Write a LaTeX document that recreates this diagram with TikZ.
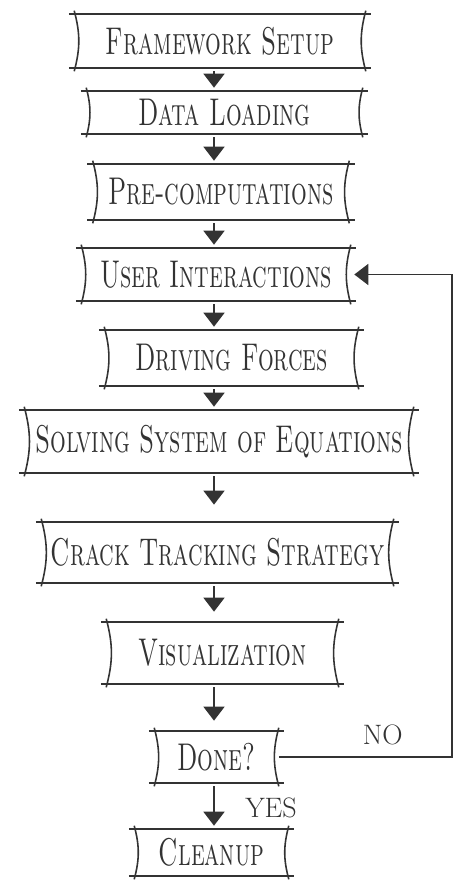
\documentclass[tikz,border=0pt]{standalone}
\usepackage{tikz}
\usetikzlibrary{arrows.meta, positioning}
\newcommand{\narrow}[1]{\scalebox{0.64}[1]{#1}}

\begin{document}
\begin{tikzpicture}[line width=0.9pt, color=black!80,
        stage/.style={font=\fontsize{22}{24}\selectfont\scshape, inner sep=0pt,
            append after command={
                ([xshift=-3pt]\tikzlastnode.north west) edge ([xshift=3pt]\tikzlastnode.north east)
                ([xshift=-3pt]\tikzlastnode.south west) edge ([xshift=3pt]\tikzlastnode.south east)
                ([yshift=2pt]\tikzlastnode.north west) edge[out=-75, in=75] ([yshift=-2pt]\tikzlastnode.south west)
                ([yshift=2pt]\tikzlastnode.north east) edge[out=-105, in=105] ([yshift=-2pt]\tikzlastnode.south east)
            }},
        flow/.style={-{Triangle[width=12pt, length=8pt]}, shorten <=2pt, shorten >=2pt},
        answer/.style={font=\fontsize{16}{18}\selectfont}]
        \useasboundingbox (0,0) rectangle (9.4,-17.7);
        % boxes from top to bottom
        \node[stage, minimum width=5.80cm, minimum height=1.04cm] (frame) at (4.40,-0.82) {\narrow{Framework Setup}};
        \node[stage, minimum width=5.50cm, minimum height=0.82cm] (data) at (4.49,-2.25) {\narrow{Data Loading}};
        \node[stage, minimum width=5.10cm, minimum height=1.08cm] (precomp) at (4.42,-3.84) {\narrow{Pre-computations}};
        \node[stage, minimum width=5.36cm, minimum height=1.02cm] (user) at (4.32,-5.49) {\narrow{User Interactions}};
        \node[stage, minimum width=5.06cm, minimum height=1.08cm] (driving) at (4.63,-7.16) {\narrow{Driving Forces}};
        \node[stage, minimum width=7.76cm, minimum height=1.22cm] (solving) at (4.38,-8.83) {\narrow{Solving System of Equations}};
        \node[stage, minimum width=7.02cm, minimum height=1.18cm] (crack) at (4.35,-11.05) {\narrow{Crack Tracking Strategy}};
        \node[stage, minimum width=4.62cm, minimum height=1.20cm] (visual) at (4.45,-13.06) {\narrow{Visualization}};
        \node[stage, minimum width=2.46cm, minimum height=1.00cm] (done) at (4.33,-15.14) {\narrow{Done?}};
        \node[stage, minimum width=3.06cm, minimum height=0.90cm] (cleanup) at (4.23,-17.05) {\narrow{Cleanup}};
        \coordinate (spine) at (4.28,0);
        \coordinate (back) at (9.04,0);
        % main flow
        \draw[flow] (frame.south -| spine) -- (data.north -| spine);
        \draw[flow] (data.south -| spine) -- (precomp.north -| spine);
        \draw[flow] (precomp.south -| spine) -- (user.north -| spine);
        \draw[flow] (user.south -| spine) -- (driving.north -| spine);
        \draw[flow] (driving.south -| spine) -- (solving.north -| spine);
        \draw[flow, shorten >=10pt] (solving.south -| spine) -- (crack.north -| spine);
        \draw[flow, shorten >=6pt] (crack.south -| spine) -- (visual.north -| spine);
        \draw[flow, shorten >=6pt] (visual.south -| spine) -- (done.north -| spine);
        \draw[flow] (done.south -| spine) -- node[answer, right=14pt, pos=0.55] (yes) {YES} (cleanup.north -| spine);
        % loop back
        \draw[flow, shorten <=0pt] (done.east) -- node[answer, above=3pt, pos=0.6] (no) {NO} (done.east -| back) |- (user.east);
\end{tikzpicture}
\end{document}
